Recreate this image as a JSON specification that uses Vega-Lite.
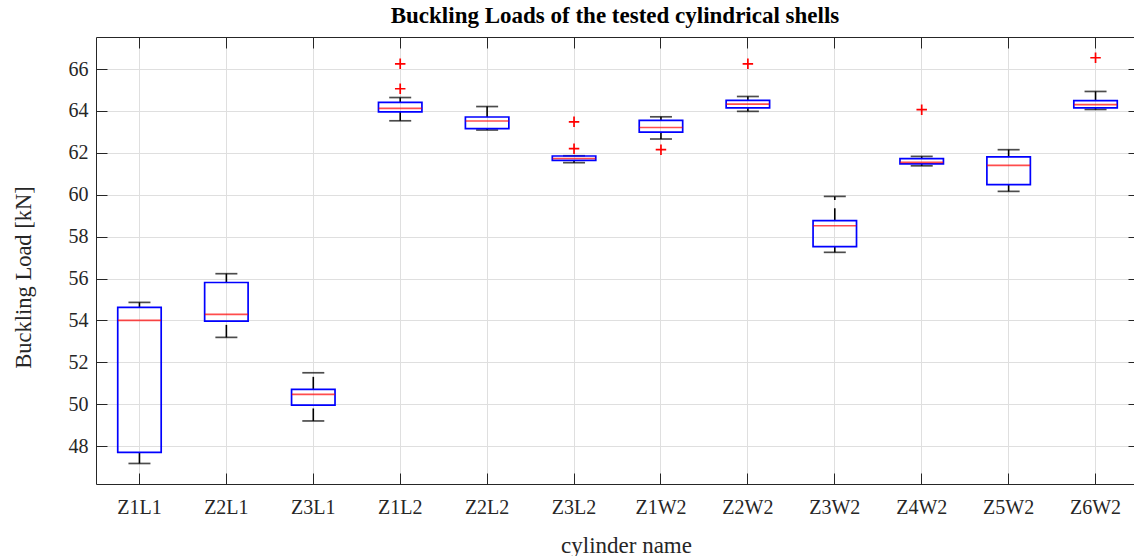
{
  "$schema": "https://vega.github.io/schema/vega-lite/v6.json",
  "width": 1038,
  "height": 447,
  "autosize": {"type": "none"},
  "padding": {"left": 96, "top": 37, "right": 0, "bottom": 72},
  "background": "white",
  "config": {"font": "Liberation Serif", "view": {"stroke": null}},
  "title": {
    "text": "Buckling Loads of the tested cylindrical shells",
    "fontSize": 23, "fontWeight": "bold", "font": "Liberation Serif",
    "color": "#000000", "anchor": "middle", "offset": 10, "dy": 19, "baseline": "alphabetic"
  },
  "datasets": {
    "boxes": [
      {"name": "Z1L1", "lower": 47.17, "q1": 47.70, "median": 54.00, "q3": 54.62, "upper": 54.86},
      {"name": "Z2L1", "lower": 53.19, "q1": 53.97, "median": 54.29, "q3": 55.81, "upper": 56.23},
      {"name": "Z3L1", "lower": 49.20, "q1": 49.96, "median": 50.47, "q3": 50.71, "upper": 51.50},
      {"name": "Z1L2", "lower": 63.53, "q1": 63.96, "median": 64.12, "q3": 64.41, "upper": 64.64},
      {"name": "Z2L2", "lower": 63.09, "q1": 63.16, "median": 63.52, "q3": 63.71, "upper": 64.21},
      {"name": "Z3L2", "lower": 61.53, "q1": 61.64, "median": 61.73, "q3": 61.85, "upper": 61.86},
      {"name": "Z1W2", "lower": 62.66, "q1": 62.99, "median": 63.21, "q3": 63.55, "upper": 63.72},
      {"name": "Z2W2", "lower": 63.98, "q1": 64.15, "median": 64.33, "q3": 64.50, "upper": 64.69},
      {"name": "Z3W2", "lower": 57.25, "q1": 57.52, "median": 58.52, "q3": 58.76, "upper": 59.92},
      {"name": "Z4W2", "lower": 61.38, "q1": 61.47, "median": 61.54, "q3": 61.72, "upper": 61.83},
      {"name": "Z5W2", "lower": 60.16, "q1": 60.48, "median": 61.40, "q3": 61.81, "upper": 62.15},
      {"name": "Z6W2", "lower": 64.07, "q1": 64.15, "median": 64.30, "q3": 64.49, "upper": 64.93}
    ],
    "outliers": [
      {"name": "Z1L2", "value": 66.25},
      {"name": "Z1L2", "value": 65.06},
      {"name": "Z3L2", "value": 63.48},
      {"name": "Z3L2", "value": 62.20},
      {"name": "Z1W2", "value": 62.15},
      {"name": "Z2W2", "value": 66.25},
      {"name": "Z4W2", "value": 64.06},
      {"name": "Z6W2", "value": 66.54}
    ]
  },
  "layer": [
    {
      "data": {"name": "boxes"},
      "mark": {"type": "rule", "color": "#000000", "strokeWidth": 1.6, "strokeDash": [12.5, 8.3]},
      "encoding": {
        "x": {
          "field": "name", "type": "nominal",
          "scale": {"type": "band", "domain": ["Z1L1","Z2L1","Z3L1","Z1L2","Z2L2","Z3L2","Z1W2","Z2W2","Z3W2","Z4W2","Z5W2","Z6W2"], "paddingInner": 0.5, "paddingOuter": 0.25, "range": [0, 1043]},
          "axis": {
            "orient": "bottom", "title": "cylinder name", "bandPosition": 0.5,
            "grid": true, "gridColor": "#dfdfdf", "gridWidth": 1,
            "domainColor": "#262626", "domainWidth": 1,
            "tickColor": "#262626", "tickSize": -11, "tickWidth": 1,
            "labelFont": "Liberation Serif", "labelFontSize": 20, "labelColor": "#262626",
            "labelPadding": 24, "labelAngle": 0,
            "titleFont": "Liberation Serif", "titleFontSize": 23, "titleFontWeight": "normal",
            "titleColor": "#262626", "titleX": 530, "titleY": 68, "titleBaseline": "alphabetic", "titleAlign": "center"
          }
        },
        "y": {
          "field": "q3", "type": "quantitative",
          "scale": {"domain": [46.19, 67.53], "nice": false, "zero": false},
          "axis": {
            "orient": "left", "title": "Buckling Load [kN]",
            "values": [48, 50, 52, 54, 56, 58, 60, 62, 64, 66],
            "grid": true, "gridColor": "#dfdfdf", "gridWidth": 1,
            "domainColor": "#262626", "domainWidth": 1,
            "tickColor": "#262626", "tickSize": -11, "tickWidth": 1,
            "labelFont": "Liberation Serif", "labelFontSize": 20, "labelColor": "#262626",
            "labelPadding": 19,
            "titleFont": "Liberation Serif", "titleFontSize": 22.5, "titleFontWeight": "normal",
            "titleColor": "#262626", "titleX": -73, "titleY": 240, "titleBaseline": "middle", "titleAlign": "center"
          }
        },
        "y2": {"field": "upper"}
      }
    },
    {
      "data": {"name": "boxes"},
      "mark": {"type": "rule", "color": "#000000", "strokeWidth": 1.6, "strokeDash": [12.5, 8.3]},
      "encoding": {
        "x": {
          "field": "name", "type": "nominal",
          "axis": {
            "orient": "top", "title": null, "labels": false, "grid": false, "bandPosition": 0.5,
            "domainColor": "#262626", "domainWidth": 1,
            "tickColor": "#262626", "tickSize": -11, "tickWidth": 1
          }
        },
        "y": {
          "field": "lower", "type": "quantitative",
          "axis": {
            "orient": "right", "title": null, "labels": false, "grid": false, "domain": false,
            "values": [48, 50, 52, 54, 56, 58, 60, 62, 64, 66],
            "tickColor": "#262626", "tickSize": -6, "tickWidth": 1
          }
        },
        "y2": {"field": "q1"}
      }
    },
    {
      "data": {"name": "boxes"},
      "mark": {"type": "tick", "color": "#000000", "size": 22, "thickness": 1.7},
      "encoding": {
        "x": {"field": "name", "type": "nominal", "axis": null},
        "y": {"field": "upper", "type": "quantitative", "axis": null}
      }
    },
    {
      "data": {"name": "boxes"},
      "mark": {"type": "tick", "color": "#000000", "size": 22, "thickness": 1.7},
      "encoding": {
        "x": {"field": "name", "type": "nominal", "axis": null},
        "y": {"field": "lower", "type": "quantitative", "axis": null}
      }
    },
    {
      "data": {"name": "boxes"},
      "mark": {"type": "bar", "fillOpacity": 0, "fill": "white", "stroke": "#0000ff", "strokeWidth": 1.7},
      "encoding": {
        "x": {"field": "name", "type": "nominal", "axis": null},
        "y": {"field": "q1", "type": "quantitative", "axis": null},
        "y2": {"field": "q3"}
      }
    },
    {
      "data": {"name": "boxes"},
      "mark": {"type": "tick", "color": "#ff0000", "size": 43, "thickness": 1.7},
      "encoding": {
        "x": {"field": "name", "type": "nominal", "axis": null},
        "y": {"field": "median", "type": "quantitative", "axis": null}
      }
    },
    {
      "data": {"name": "outliers"},
      "mark": {"type": "point", "shape": "M-1,0L1,0M0,-1L0,1", "size": 110, "filled": false, "stroke": "#ff0000", "strokeWidth": 1.7, "opacity": 1},
      "encoding": {
        "x": {"field": "name", "type": "nominal", "axis": null},
        "y": {"field": "value", "type": "quantitative", "axis": null}
      }
    }
  ],
  "resolve": {"axis": {"x": "independent", "y": "independent"}}
}
